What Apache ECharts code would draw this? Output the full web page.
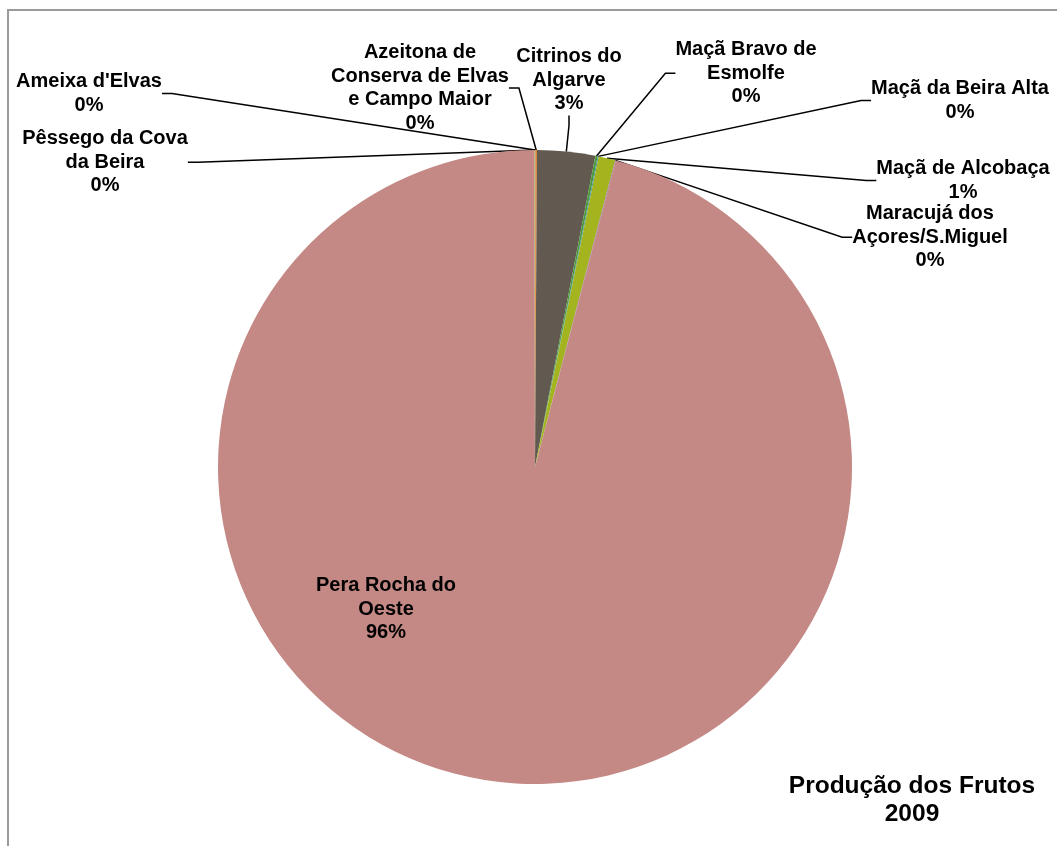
<!DOCTYPE html>
<html>
<head>
<meta charset="utf-8">
<script src="https://cdn.jsdelivr.net/npm/echarts@6/dist/echarts.min.js"></script>
<style>
html,body{margin:0;padding:0;background:#fff;}
#chart{width:1057px;height:846px;}
</style>
</head>
<body>
<div id="chart"></div>
<script>
// ---- data ----
var categories = ["Ameixa d'Elvas", "Azeitona de Conserva de Elvas e Campo Maior", "Citrinos do Algarve", "Maçã Bravo de Esmolfe", "Maçã da Beira Alta", "Maçã de Alcobaça", "Maracujá dos Açores/S.Miguel", "Pera Rocha do Oeste", "Pêssego da Cova da Beira"];
var values = [0.02, 0.08, 2.95, 0.12, 0.05, 0.85, 0.03, 95.88, 0.02];
var labelText = ["Ameixa d'Elvas", "Azeitona de\nConserva de Elvas\ne Campo Maior", "Citrinos do\nAlgarve", "Maçã Bravo de\nEsmolfe", "Maçã da Beira Alta", "Maçã de Alcobaça", "Maracujá dos\nAçores/S.Miguel", "Pera Rocha do\nOeste", "Pêssego da Cova\nda Beira"];
var titleLines = ["Produção dos Frutos", "2009"];

// ---- styling (not data) ----
var colors = ['#7f6084', '#e08a2b', '#625a50', '#4e9a3a', '#3d8fa8', '#a4b41e', '#8064a2', '#c48985', '#9bbb59'];
var labelPos = [
  [89, 70], [420, 41], [569, 45], [746, 38], [960, 77], [963, 157], [930, 202], [386, 574], [105, 127]
];

var chart = echarts.init(document.getElementById('chart'));
var seriesData = categories.map(function (c, i) {
  var d = { name: c, value: values[i], itemStyle: { color: colors[i] } };
  if (i === 7) d.labelLine = { show: false };
  return d;
});

chart.setOption({
  animation: false,
  title: {
    text: titleLines.join('\n'),
    left: 907, top: 767, textAlign: 'center',
    textStyle: { fontFamily: 'Liberation Sans, Arial, sans-serif', fontWeight: 'bold', fontSize: 24.5, lineHeight: 28, color: '#000' }
  },
  graphic: [{
    type: 'rect', z: -10, silent: true,
    shape: { x: 8, y: 10, width: 1200, height: 1000 },
    style: { fill: 'none', stroke: '#9a9a9a', lineWidth: 2 }
  }],
  series: [{
    type: 'pie',
    center: [535, 467],
    radius: 317,
    startAngle: 90,
    clockwise: true,
    avoidLabelOverlap: false,
    silent: true,
    itemStyle: { borderWidth: 0 },
    label: {
      show: true,
      position: 'outside',
      fontFamily: 'Liberation Sans, Arial, sans-serif',
      fontWeight: 'bold',
      fontSize: 20,
      lineHeight: 23.5,
      color: '#000',
      align: 'center',
      formatter: function (p) {
        return labelText[p.dataIndex] + '\n' + Math.round(p.percent) + '%';
      }
    },
    labelLine: {
      show: true, length: 10, length2: 10, smooth: false,
      lineStyle: { color: '#000', width: 1.5 }
    },
    labelLayout: function (p) {
      var pos = labelPos[p.dataIndex];
      return { x: pos[0], y: pos[1], align: 'center', verticalAlign: 'top' };
    },
    data: seriesData
  }]
});
</script>
</body>
</html>
